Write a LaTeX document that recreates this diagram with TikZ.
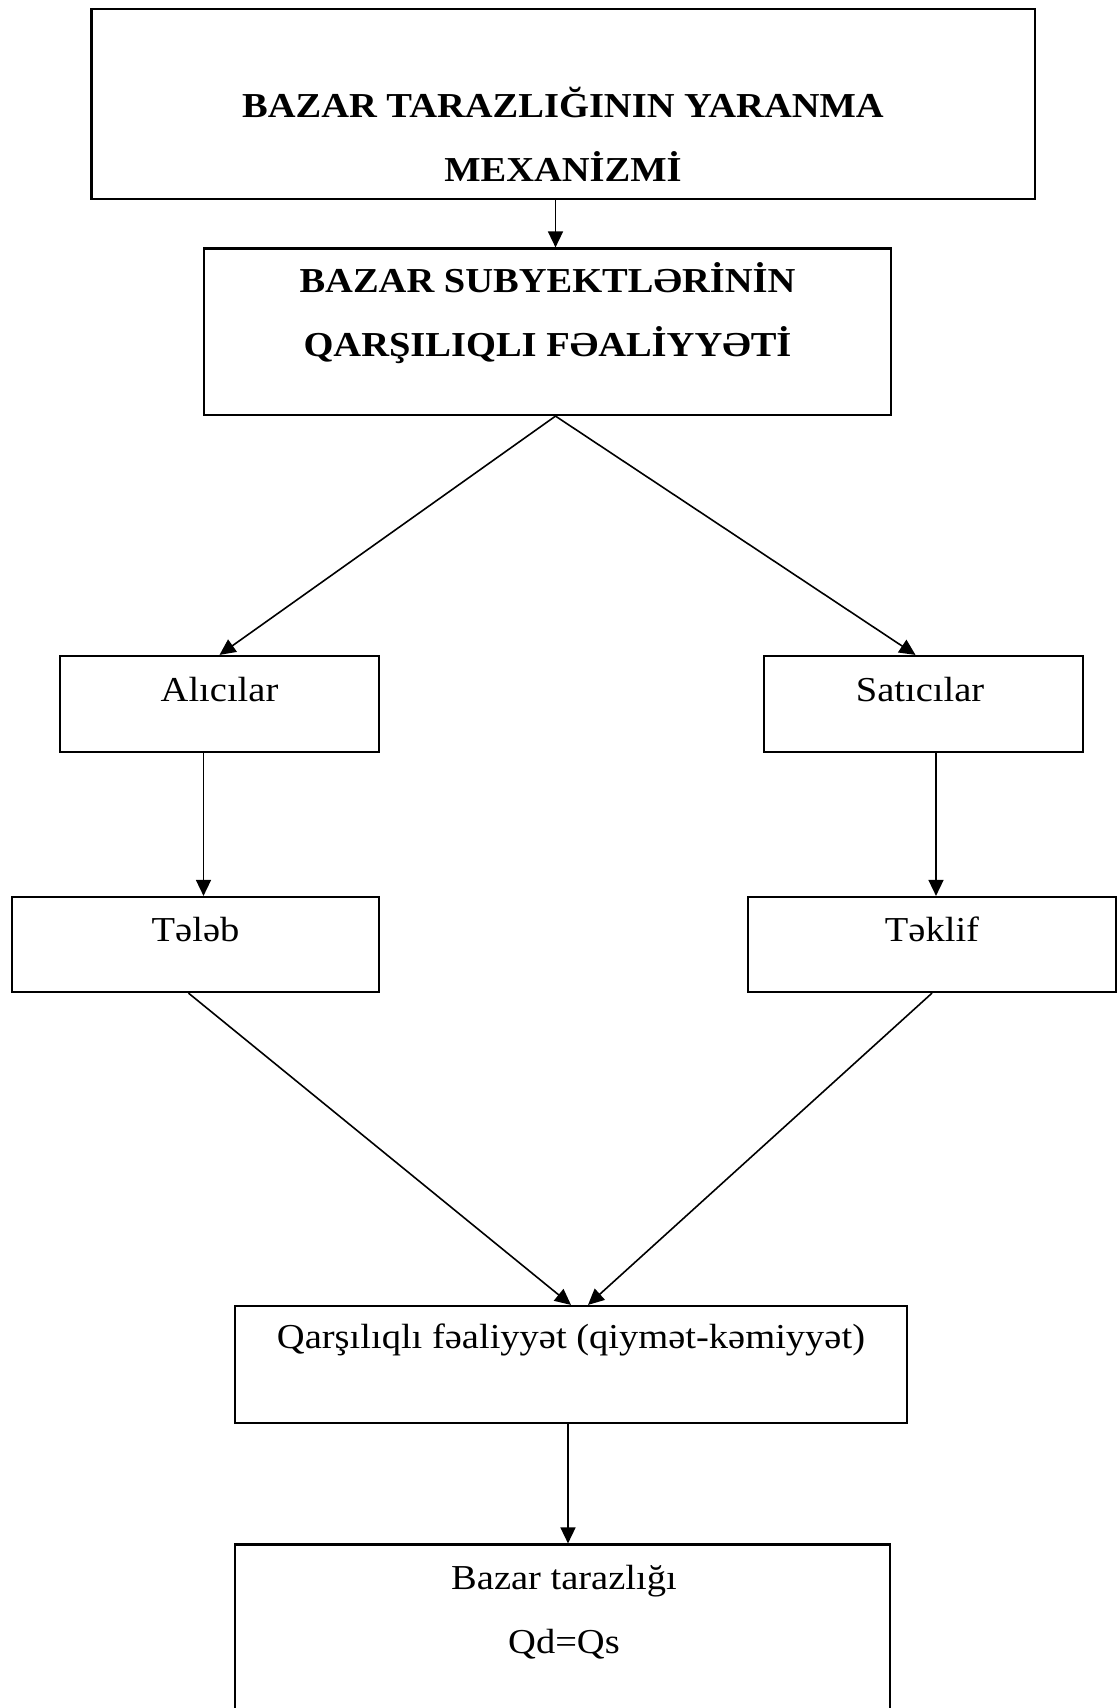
\documentclass[tikz,border=0pt]{standalone}
\usepackage{fontspec}
\setmainfont[FakeStretch=1.1]{Liberation Serif}
\usetikzlibrary{arrows.meta}

\begin{document}
\begin{tikzpicture}[x=0.5pt, y=-0.5pt, font=\fontsize{17.5}{32}\selectfont,
  >={Triangle[length=8pt,width=7.5pt]},
  box/.style={draw, line width=1.1pt, inner sep=0pt},
  txt/.style={anchor=base, align=center, inner sep=0pt},
  head/.style={txt, font=\fontsize{17.5}{32}\selectfont\bfseries},
  link/.style={->, line width=0.8pt}]
\useasboundingbox (0,0) rectangle (1117,1708);
% boxes, top to bottom
\node[box, minimum width=471.75pt, minimum height=95.35pt] (mech) at (563.25,104) {};
\node[box, minimum width=343.5pt, minimum height=83.25pt] (subj) at (547.5,331.75) {};
\node[box, minimum width=159.5pt, minimum height=48pt] (buyer) at (219.5,704) {};
\node[box, minimum width=159.5pt, minimum height=48pt] (seller) at (923.5,704) {};
\node[box, minimum width=183.5pt, minimum height=47.5pt] (dem) at (195.5,944.5) {};
\node[box, minimum width=184pt, minimum height=47.5pt] (sup) at (932,944.5) {};
\node[box, minimum width=336pt, minimum height=58.5pt] (inter) at (571,1364.5) {};
\node[box, minimum width=327.5pt, minimum height=107.5pt] (equil) at (562.5,1652) {};
% texts (base = last line)
\node[head] (mechtxt) at (563,181) {BAZAR TARAZLIĞININ YARANMA\\MEXANİZMİ};
\node[head] (subjtxt) at (547.5,356) {BAZAR SUBYEKTLƏRİNİN\\QARŞILIQLI FƏALİYYƏTİ};
\node[txt] (buyertxt) at (219.5,701) {Alıcılar};
\node[txt] (sellertxt) at (920,701) {Satıcılar};
\node[txt] (demtxt) at (195.5,941) {Tələb};
\node[txt] (suptxt) at (932,941) {Təklif};
\node[txt] (intertxt) at (571,1348) {Qarşılıqlı fəaliyyət (qiymət-kəmiyyət)};
\node[txt] (equiltxt) at (564,1653) {Bazar tarazlığı\\Qd=Qs};
% connectors
\coordinate (apex) at ([xshift=4pt]subj.south);
\draw[link] ([xshift=4pt]subj.north |- mech.south) -- ([xshift=4pt]subj.north);
\draw[link] (apex) -- (buyer.north);
\draw[link] (apex) -- ([xshift=-4pt]seller.north);
\draw[link] ([xshift=-8pt]buyer.south) -- ([xshift=-8pt]buyer.south |- dem.north);
\draw[link] ([xshift=2pt]sup.north |- seller.south) -- ([xshift=2pt]sup.north);
\draw[link] ([xshift=-3.5pt]dem.south) -- (inter.north);
\draw[link] (sup.south) -- ([xshift=8.5pt]inter.north);
\draw[link] ([xshift=-1.5pt]inter.south) -- ([xshift=-1.5pt]inter.south |- equil.north);
\end{tikzpicture}
\end{document}
